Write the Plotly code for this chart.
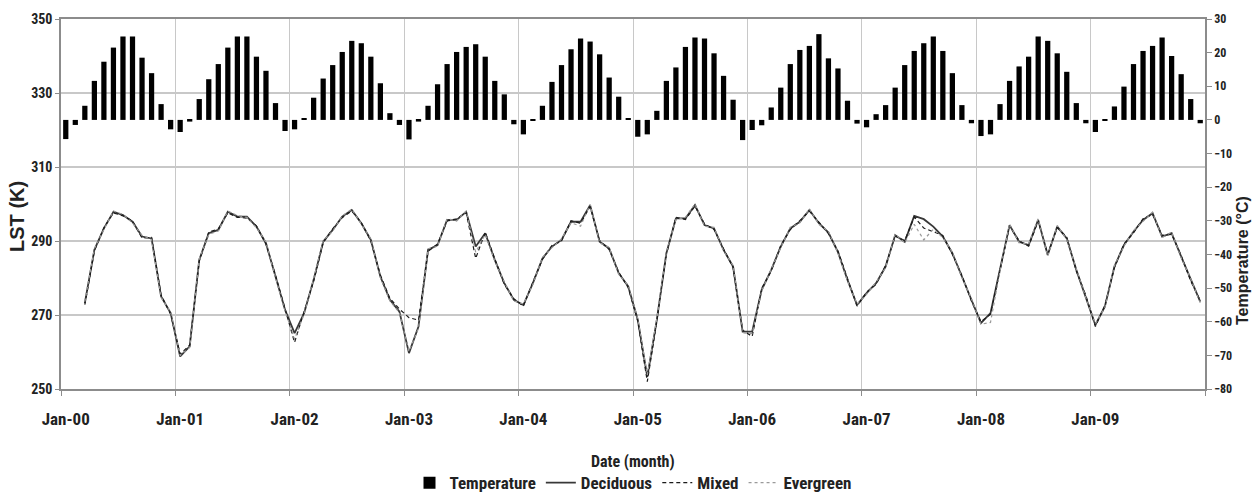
import plotly.graph_objects as go

# Monthly categories Jan-2000 .. Dec-2009
MONTH_NAMES = ["Jan", "Feb", "Mar", "Apr", "May", "Jun",
               "Jul", "Aug", "Sep", "Oct", "Nov", "Dec"]
YEARS = ["00", "01", "02", "03", "04", "05", "06", "07", "08", "09"]
months = [f"{m}-{y}" for y in YEARS for m in MONTH_NAMES]

# Mean monthly air temperature (deg C)
temperature = [
    -5.7, -1.5, 4.2, 11.6, 17.3, 21.5, 24.8, 24.8, 18.5, 13.9, 4.7, -2.8,
    -3.6, -0.5, 6.2, 12.1, 16.6, 21.5, 24.8, 24.8, 18.8, 14.6, 5.0, -3.3,
    -2.8, 0.5, 6.6, 12.3, 16.3, 20.2, 23.5, 22.8, 18.8, 10.9, 2.0, -1.5,
    -5.8, -0.5, 4.2, 10.6, 16.6, 20.2, 21.7, 22.5, 18.8, 11.6, 7.6, -1.3,
    -4.3, -0.3, 4.2, 11.3, 16.3, 21.0, 24.2, 23.3, 19.5, 12.6, 6.9, 0.5,
    -5.0, -4.3, 2.7, 11.6, 15.6, 21.7, 24.5, 24.2, 19.8, 13.1, 6.0, -6.0,
    -3.0, -1.6, 3.7, 9.6, 16.6, 20.8, 22.0, 25.5, 18.3, 15.3, 5.7, -1.1,
    -2.2, 1.7, 4.4, 9.6, 16.3, 20.5, 22.8, 24.8, 20.5, 13.9, 4.4, -1.0,
    -4.8, -4.3, 4.7, 11.6, 15.9, 18.8, 24.8, 23.5, 19.8, 14.3, 5.0, -1.0,
    -3.6, -0.3, 4.0, 9.9, 16.6, 20.5, 22.0, 24.5, 19.0, 13.6, 6.2, -1.0,
]

# LST series begin in Mar-00
lst_months = months[2:]

deciduous = [
    273.2, 287.6, 293.4, 297.9, 297.0, 295.2, 291.2, 290.7, 275.0, 270.5,
    258.8, 261.5, 284.9, 292.1, 293.0, 297.9, 296.6, 296.6, 293.9, 289.4, 280.4, 271.4,
    265.1, 270.5, 279.5, 289.8, 293.0, 296.6, 298.4, 294.8, 290.3, 280.4, 274.1, 270.9,
    259.7, 266.9, 287.6, 288.9, 295.7, 295.7, 297.9, 288.5, 292.1, 284.9, 278.6, 274.1,
    272.7, 278.6, 285.3, 288.5, 290.3, 295.2, 295.2, 299.7, 289.8, 288.0, 281.3, 277.7,
    268.7, 253.3, 268.7, 286.7, 296.1, 296.1, 299.7, 294.3, 293.4, 287.6, 283.1, 265.5,
    265.5, 276.8, 282.2, 288.5, 293.4, 295.2, 298.4, 294.8, 292.3, 287.0, 279.5, 272.7,
    275.9, 278.6, 283.1, 291.6, 289.8, 296.8, 295.9, 293.9, 291.2, 286.7, 280.4, 274.1,
    267.8, 270.5, 282.2, 294.3, 289.8, 288.9, 295.7, 286.2, 293.9, 290.7, 282.2, 275.0,
    267.3, 272.3, 283.1, 288.9, 292.5, 295.7, 297.5, 291.2, 292.1, 285.8, 279.5, 273.6,
]

mixed = [
    272.8, 287.3, 293.6, 297.6, 296.8, 295.4, 290.8, 291.0, 275.4, 270.2,
    259.4, 261.9, 284.5, 292.4, 293.3, 297.6, 296.4, 296.2, 294.1, 289.1, 280.8, 271.8,
    262.6, 270.9, 279.1, 289.5, 293.3, 296.3, 298.1, 295.0, 290.0, 280.8, 274.5, 271.6,
    269.3, 268.6, 287.2, 289.2, 295.4, 296.0, 297.6, 285.3, 292.4, 285.2, 278.3, 274.4,
    272.4, 278.9, 285.0, 288.8, 290.0, 295.5, 294.8, 299.3, 290.1, 287.7, 281.6, 277.4,
    268.3, 252.0, 268.3, 286.4, 296.4, 295.8, 299.4, 294.6, 293.1, 287.9, 282.8, 265.9,
    264.2, 277.2, 281.9, 288.8, 293.1, 295.5, 298.1, 295.1, 292.0, 287.3, 279.8, 272.4,
    276.2, 278.3, 283.4, 291.3, 290.1, 296.5, 293.5, 292.4, 291.5, 286.4, 280.7, 273.8,
    268.2, 270.2, 282.5, 294.0, 290.1, 288.6, 295.4, 286.5, 293.6, 291.0, 281.9, 275.3,
    266.9, 272.6, 282.8, 289.2, 292.2, 296.0, 297.2, 291.5, 291.8, 286.1, 279.2, 273.9,
]

evergreen = [
    273.6, 287.9, 293.1, 298.1, 297.2, 294.9, 291.5, 290.4, 274.7, 270.8,
    259.1, 261.2, 285.2, 291.8, 292.7, 298.1, 296.9, 296.4, 293.6, 289.7, 280.1, 271.1,
    263.5, 270.2, 279.8, 290.1, 292.7, 296.8, 298.6, 294.5, 290.6, 280.1, 273.8, 270.6,
    260.2, 266.4, 287.9, 288.6, 296.0, 295.4, 298.1, 287.0, 291.8, 284.6, 278.9, 273.8,
    273.0, 278.3, 285.6, 288.2, 290.6, 294.9, 294.0, 299.9, 289.5, 288.3, 281.0, 278.0,
    269.0, 253.8, 269.0, 287.0, 295.8, 296.4, 300.0, 294.0, 293.7, 287.3, 283.4, 265.2,
    265.0, 276.5, 282.5, 288.2, 293.7, 294.9, 298.7, 294.5, 292.6, 286.7, 279.2, 273.0,
    275.6, 278.9, 282.8, 291.9, 289.5, 294.5, 290.3, 293.2, 290.9, 287.0, 280.1, 274.4,
    267.5, 268.0, 281.9, 294.6, 289.5, 289.2, 296.0, 285.9, 294.2, 290.4, 282.5, 274.7,
    267.6, 272.0, 283.4, 288.6, 292.8, 295.4, 297.8, 290.9, 292.4, 285.5, 279.8, 273.3,
]

narrow = "Liberation Sans Narrow, Arial Narrow, Roboto Condensed, DejaVu Sans Condensed, sans-serif"
wide = "Liberation Sans, Arial, sans-serif"
ink = "#222222"
axis_col = "#8c8c8c"
grid_col = "#c8c8c8"

fig = go.Figure()

fig.add_trace(go.Bar(
    x=months, y=temperature, name="Temperature", yaxis="y2",
    marker=dict(color="#000000", line=dict(width=0)),
))
fig.add_trace(go.Scatter(
    x=lst_months, y=deciduous, name="Deciduous", mode="lines",
    line=dict(color="#383838", width=1.8),
))
fig.add_trace(go.Scatter(
    x=lst_months, y=mixed, name="Mixed", mode="lines",
    line=dict(color="#1a1a1a", width=1.2, dash="4px,3px"),
))
fig.add_trace(go.Scatter(
    x=lst_months, y=evergreen, name="Evergreen", mode="lines",
    line=dict(color="#9a9a9a", width=1.2, dash="dot"),
))

# Axis titles
fig.add_annotation(
    text="LST (K)", textangle=-90, showarrow=False,
    xref="paper", yref="paper", x=0, xanchor="center", xshift=-44,
    y=0.465, yanchor="middle",
    font=dict(size=20, family=wide, weight="bold", color=ink),
)
fig.add_annotation(
    text="Temperature (°C)", textangle=-90, showarrow=False,
    xref="paper", yref="paper", x=1, xanchor="center", xshift=38,
    y=0.346, yanchor="middle",
    font=dict(size=16, family=wide, weight="bold", color=ink),
)
fig.add_annotation(
    text="Date (month)", showarrow=False,
    xref="paper", yref="paper", x=0.5, xanchor="center",
    y=-0.195, yanchor="middle",
    font=dict(size=16, family=narrow, weight="bold", color=ink),
)

fig.update_layout(
    width=1252, height=496,
    margin=dict(l=61, r=47, t=19, b=107, autoexpand=False),
    paper_bgcolor="white", plot_bgcolor="white",
    bargap=0.45,
    showlegend=True,
    font=dict(family=narrow, color=ink),
    xaxis=dict(
        type="category", automargin=False,
        categoryorder="array", categoryarray=months,
        range=[-0.5, len(months) - 0.5],
        tickmode="linear", tick0=0, dtick=12,
        tickson="boundaries", tickangle=0,
        ticks="outside", ticklen=5, tickcolor=axis_col,
        ticklabelstandoff=14,
        showgrid=True, gridcolor=grid_col, gridwidth=1,
        showline=True, linecolor=axis_col, linewidth=1.5, mirror=True,
        tickfont=dict(size=17, family=narrow, weight="bold", color=ink),
    ),
    yaxis=dict(
        automargin=False,
        range=[250, 350], dtick=20, tick0=250,
        showgrid=True, gridcolor=grid_col, gridwidth=1.5,
        ticks="outside", ticklen=4, tickcolor=axis_col,
        showline=True, linecolor=axis_col, linewidth=1.5, mirror=True,
        zeroline=False,
        tickfont=dict(size=14, family=narrow, weight="bold", color=ink),
    ),
    yaxis2=dict(
        automargin=False,
        overlaying="y", side="right",
        range=[-80, 30], dtick=10, tick0=-80,
        showgrid=False, zeroline=False,
        ticks="outside", ticklen=5, tickcolor=axis_col,
        showline=True, linecolor=axis_col, linewidth=1.5,
        tickfont=dict(size=12, family=narrow, weight="bold", color=ink),
    ),
    legend=dict(
        orientation="h", xref="paper", yref="container",
        x=0.5, xanchor="center", y=0.026, yanchor="middle",
        font=dict(size=17, family=narrow, weight="bold", color=ink),
        itemwidth=30, tracegroupgap=0, bgcolor="rgba(0,0,0,0)",
    ),
)

fig.write_html("out.html")
